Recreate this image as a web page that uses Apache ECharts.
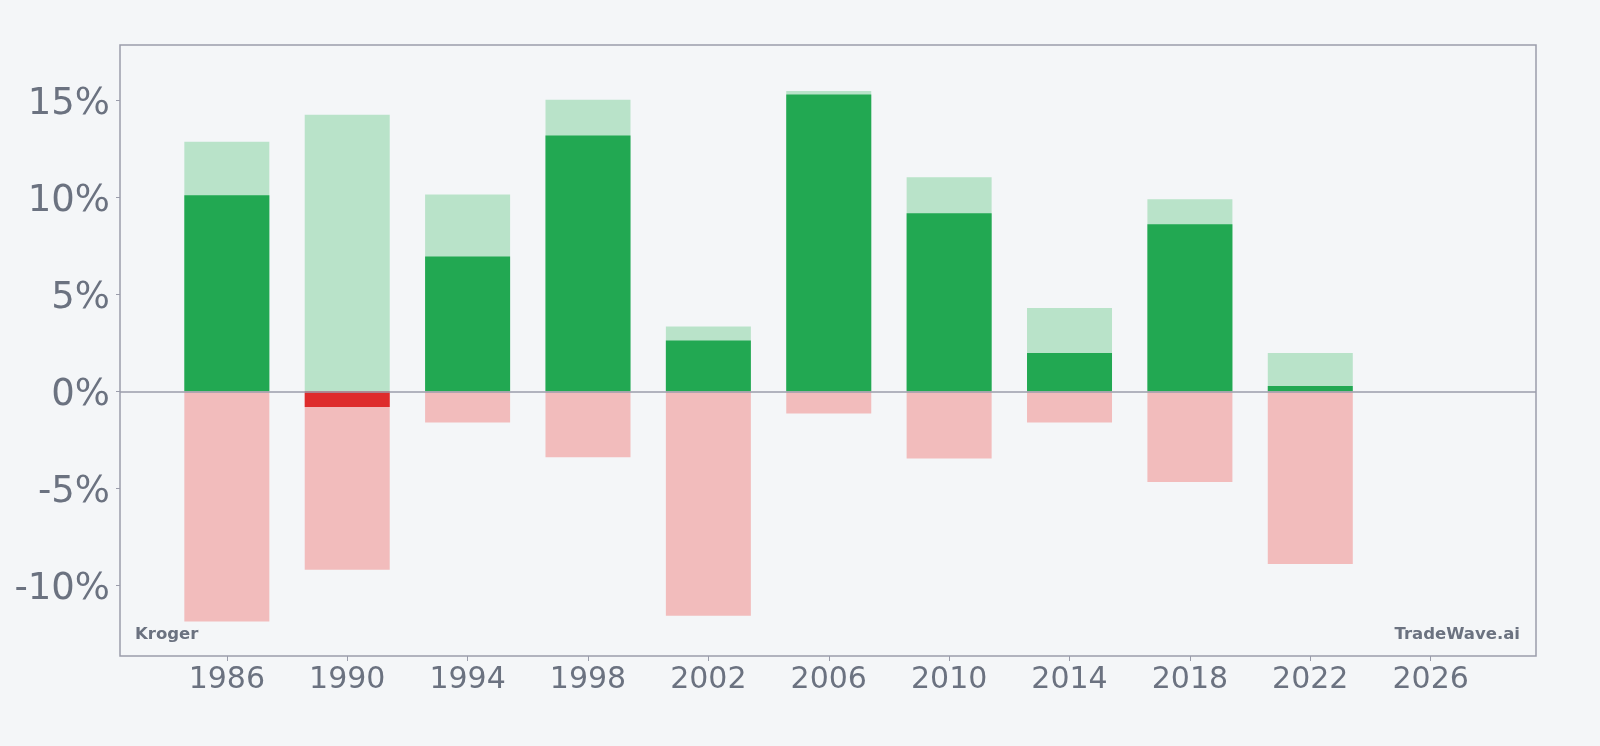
<!DOCTYPE html>
<html lang="en">

<head>
  <meta charset="UTF-8">
  <title>Kroger</title>
  <style>
    body {
      margin: 0;
      padding: 0;
      background: #f4f6f8;
    }

    #chart {
      width: 1600px;
      height: 746px;
    }
  </style>
</head>

<body>
  <div id="chart"></div>

  <script src="https://cdn.jsdelivr.net/npm/echarts@6/dist/echarts.min.js"></script>
  <script>
    // 4-year periods, values in %
    var years = [1986, 1990, 1994, 1998, 2002, 2006, 2010, 2014, 2018, 2022];
    var maxGain = [12.87, 14.26, 10.14, 15.03, 3.34, 15.48, 11.03, 4.29, 9.90, 1.97];
    var periodReturn = [10.1, -0.81, 6.95, 13.18, 2.62, 15.30, 9.18, 1.97, 8.61, 0.27];
    var maxDrawdown = [-11.86, -9.2, -1.6, -3.4, -11.57, -1.14, -3.46, -1.6, -4.67, -8.9];
    var xTicks = [1986, 1990, 1994, 1998, 2002, 2006, 2010, 2014, 2018, 2022, 2026];
    var yTicks = [-10, -5, 0, 5, 10, 15];

    var textColor = '#6b7280';
    var lineColor = '#9b9dab';

    function pairs(vals) {
      return years.map(function (y, i) { return [y, vals[i]]; });
    }

    var chart = echarts.init(document.getElementById('chart'));

    var barCommon = {
      type: 'bar',
      barWidth: 85,
      barGap: '-100%',
      silent: true
    };

    var option = {
      backgroundColor: '#f4f6f8',
      animation: false,
      grid: {
        left: 120,
        right: 64,
        top: 45,
        bottom: 90,
        show: true,
        borderColor: lineColor,
        borderWidth: 1.5,
        backgroundColor: 'transparent'
      },
      xAxis: {
        type: 'value',
        min: 1982.45,
        max: 2029.5,
        axisLine: { show: false, onZero: false },
        splitLine: { show: false },
        axisTick: {
          show: true,
          length: 5,
          customValues: xTicks,
          lineStyle: { color: lineColor }
        },
        axisLabel: {
          customValues: xTicks,
          color: textColor,
          fontSize: 30,
          fontFamily: 'DejaVu Sans',
          margin: 9,
          formatter: function (v) { return String(v); }
        }
      },
      yAxis: {
        type: 'value',
        min: -13.64,
        max: 17.85,
        axisLine: { show: false, onZero: false },
        splitLine: { show: false },
        axisTick: {
          show: true,
          length: 4,
          customValues: yTicks,
          lineStyle: { color: lineColor }
        },
        axisLabel: {
          customValues: yTicks,
          color: textColor,
          fontSize: 37,
          fontFamily: 'DejaVu Sans',
          margin: 10,
          verticalAlign: 'top',
          lineHeight: 8,
          formatter: function (v) { return v + '%'; }
        }
      },
      graphic: [
        {
          type: 'text',
          left: 135,
          top: 626,
          style: {
            text: 'Kroger',
            fill: textColor,
            font: 'bold 16.5px "DejaVu Sans"'
          }
        },
        {
          type: 'text',
          right: 80,
          top: 626,
          style: {
            text: 'TradeWave.ai',
            fill: textColor,
            font: 'bold 16.5px "DejaVu Sans"'
          }
        }
      ],
      series: [
        Object.assign({}, barCommon, {
          name: 'max gain',
          data: pairs(maxGain),
          itemStyle: { color: '#b9e3c9' }
        }),
        Object.assign({}, barCommon, {
          name: 'max drawdown',
          data: pairs(maxDrawdown),
          itemStyle: { color: '#f2bcbc' }
        }),
        Object.assign({}, barCommon, {
          name: 'return',
          data: pairs(periodReturn),
          itemStyle: {
            color: function (p) {
              return p.value[1] >= 0 ? '#22a852' : '#de2c2c';
            }
          },
          markLine: {
            silent: true,
            symbol: 'none',
            label: { show: false },
            lineStyle: { color: lineColor, width: 1.5, type: 'solid' },
            data: [{ yAxis: 0 }]
          }
        })
      ]
    };

    chart.setOption(option);
  </script>
</body>

</html>
